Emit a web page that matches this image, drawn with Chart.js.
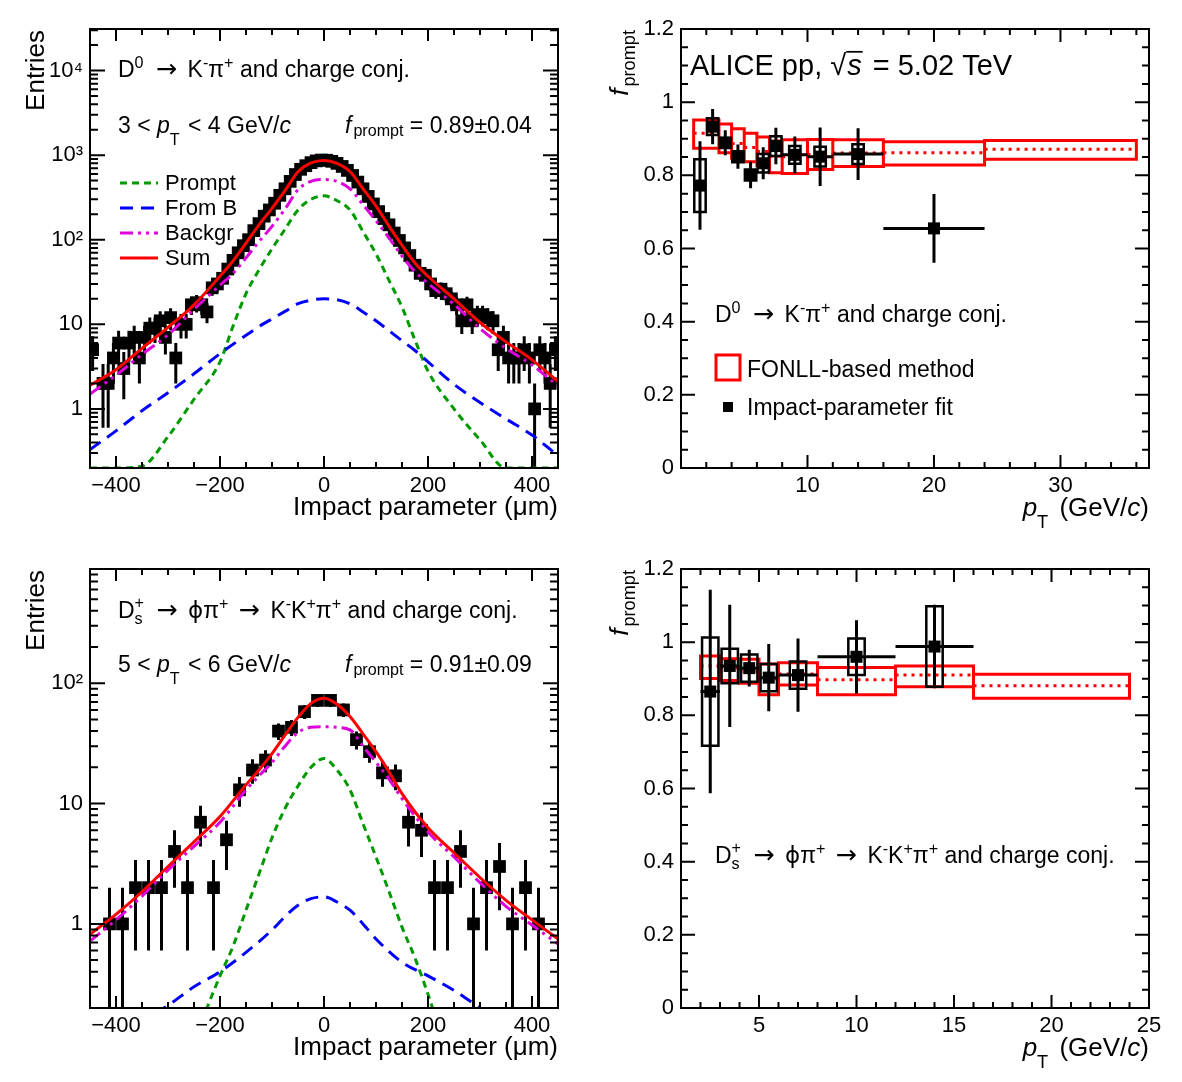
<!DOCTYPE html>
<html><head><meta charset="utf-8">
<script src="https://cdn.jsdelivr.net/npm/chart.js@4.4.1/dist/chart.umd.min.js"></script>
<style>
html,body{margin:0;padding:0;background:#fff;width:1182px;height:1082px;overflow:hidden}
canvas{position:absolute}
</style></head><body>
<canvas id="tl" width="591" height="541" style="left:0;top:0"></canvas>
<canvas id="tr" width="591" height="541" style="left:591px;top:0"></canvas>
<canvas id="bl" width="591" height="541" style="left:0;top:540px"></canvas>
<canvas id="br" width="591" height="541" style="left:591px;top:540px"></canvas>
<script>
// ================= DATA =================
// --- Top-left: D0 -> K-pi+, 3 < pT < 4 GeV/c, impact-parameter distribution (bin width 10 um)
const d0BinCenters = [
 -445,-435,-425,-415,-405,-395,-385,-375,-365,-355,
 -345,-335,-325,-315,-305,-295,-285,-275,-265,-255,
 -245,-235,-225,-215,-205,-195,-185,-175,-165,-155,
 -145,-135,-125,-115,-105,-95,-85,-75,-65,-55,
 -45,-35,-25,-15,-5,5,15,25,35,45,
 55,65,75,85,95,105,115,125,135,145,
 155,165,175,185,195,205,215,225,235,245,
 255,265,275,285,295,305,315,325,335,345,
 355,365,375,385,395,405,415,425,435,445];
const d0Counts = [
 5,0,2,2,4,6,3,6,7,4,
 7,9,9,11,7,12,4,10,10,17,
 18,17,14,27,30,35,45,57,70,85,
 100,128,155,190,225,270,335,400,490,590,
 680,750,815,855,875,870,845,800,735,660,
 575,480,400,325,265,215,178,150,120,98,
 80,65,50,40,38,30,25,26,23,20,
 17,11,17,11,13,13,12,11,5,7,
 4,4,4,5,4,1,5,4,2,5];
const d0Errors = [
 2.2,0,1.4,1.4,2,2.4,1.7,2.4,2.6,2,
 2.6,3,3,3.3,2.6,3.5,2,3.2,3.2,4.1,
 4.2,4.1,3.7,5.2,5.5,5.9,6.7,7.5,8.4,9.2,
 10,11.3,12.4,13.8,15,16.4,18.3,20,22.1,24.3,
 26.1,27.4,28.5,29.2,29.6,29.5,29.1,28.3,27.1,25.7,
 24,21.9,20,18,16.3,14.7,13.3,12.2,11,9.9,
 8.9,8.1,7.1,6.3,6.2,5.5,5,5.1,4.8,4.5,
 4.1,3.3,4.1,3.3,3.6,3.6,3.5,3.3,2.2,2.6,
 2,2,2,2.2,2,1,2.2,2,1.4,2.2];
const d0CurveX  = [-450,-400,-350,-300,-250,-200,-175,-150,-125,-100,-75,-50,-25,0,25,50,75,100,125,150,175,200,250,300,350,400,450];
const d0Prompt  = [0.2,0.2,0.21,0.47,1.3,3.6,9.5,23,44,78,133,225,300,330,290,225,125,68,33,16,6.5,2.8,1.0,0.43,0.2,0.2,0.2];
const d0FromB   = [0.33,0.55,0.95,1.55,2.6,4.5,5.8,7.4,9.4,11.6,14.2,17.5,19.3,20,19.5,17.5,14,11,8.4,6.4,4.9,3.6,1.95,1.19,0.76,0.49,0.28];
const d0Backgr  = [1.5,2.5,4.4,7.5,15,29,40,61,95,144,230,390,490,515,490,400,260,168,105,64,42,30.5,17.2,8.9,5.2,3.3,1.85];
const d0Sum     = [1.9,2.9,5.2,9.2,17,37,56,91,150,235,380,635,810,865,800,640,400,250,145,86,53,37,20,10.5,6.2,3.8,2.1];

// --- Bottom-left: Ds+ -> phi pi+ -> K-K+pi+, 5 < pT < 6 GeV/c (bin width 25 um)
const dsBinCenters = [-437.5,-412.5,-387.5,-362.5,-337.5,-312.5,-287.5,-262.5,-237.5,-212.5,
 -187.5,-162.5,-137.5,-112.5,-87.5,-62.5,-37.5,-12.5,12.5,37.5,
 62.5,87.5,112.5,137.5,162.5,187.5,212.5,237.5,262.5,287.5,
 312.5,337.5,362.5,387.5,412.5,437.5];
const dsCounts = [0,1,1,2,2,2,4,2,7,2, 5,13,19,23,40,43,58,72,72,60, 34,27,18,17,7,6,2,2,4,1, 2,3,1,2,1,0];
const dsErrors = [0,1,1,1.4,1.4,1.4,2,1.4,2.6,1.4, 2.2,3.6,4.4,4.8,6.3,6.6,7.6,8.5,8.5,7.7, 5.8,5.2,4.2,4.1,2.6,2.4,1.4,1.4,2,1, 1.4,1.7,1,1.4,1,0];
const dsCurveX   = [-450,-400,-350,-300,-250,-200,-150,-125,-100,-75,-50,-25,0,25,50,75,100,125,150,200,250,300,350,400,450];
const dsSum      = [0.82,1.2,1.85,3.0,4.8,7.8,14.3,19,26,37,52,68,75,67,53,38,27,18.4,12.1,6.3,3.9,2.43,1.57,1.08,0.75];
const dsBackgr   = [0.72,1.08,1.7,2.8,4.4,7.0,13,17,22,30,39,43,43.5,43,41,30,22,16,11,5.8,3.6,2.2,1.4,0.98,0.68];
const dsPromptX  = [-250,-225,-200,-175,-150,-125,-100,-75,-50,-25,0,25,50,75,100,125,150,175,200,225];
const dsPrompt   = [0.1,0.2,0.37,0.65,1.3,2.6,5.2,9.1,14,20,23.7,19,13,6.8,3.6,1.86,0.94,0.52,0.26,0.12];
const dsFromBX   = [-325,-300,-250,-200,-150,-100,-75,-50,-25,0,25,50,75,100,150,200,250,300,325];
const dsFromB    = [0.18,0.21,0.3,0.4,0.58,0.89,1.15,1.43,1.62,1.68,1.52,1.3,1.0,0.75,0.48,0.37,0.28,0.2,0.17];

// --- Top-right: D0 f_prompt vs pT
const d0FonllLo   = [1,3,4,5,6,7,8,10,12,16,24];
const d0FonllHi   = [3,4,5,6,7,8,10,12,16,24,36];
const d0FonllC    = [0.915,0.90,0.887,0.876,0.865,0.852,0.851,0.857,0.861,0.862,0.871];
const d0FonllMin  = [0.874,0.862,0.847,0.837,0.826,0.807,0.805,0.816,0.824,0.828,0.844];
const d0FonllMax  = [0.951,0.940,0.927,0.915,0.905,0.894,0.897,0.898,0.897,0.892,0.895];
const d0FitPt     = [1.5,2.5,3.5,4.5,5.5,6.5,7.5,9,11,14,20];
const d0FitHalfW  = [0.5,0.5,0.5,0.5,0.5,0.5,0.5,1,1,2,4];
const d0FitF      = [0.772,0.933,0.889,0.851,0.801,0.833,0.880,0.856,0.851,0.858,0.655];
const d0FitStat   = [0.121,0.048,0.034,0.033,0.036,0.044,0.05,0.05,0.08,0.071,0.094];
const d0FitSyst   = [0.072,0.023,0.014,0.015,0.015,0.025,0.027,0.024,0.027,0.027,0];

// --- Bottom-right: Ds f_prompt vs pT
const dsFonllLo   = [2,3,4,5,6,8,12,16];
const dsFonllHi   = [3,4,5,6,8,12,16,24];
const dsFonllC    = [0.935,0.93,0.92,0.90,0.913,0.897,0.910,0.881];
const dsFonllMin  = [0.901,0.895,0.888,0.856,0.883,0.856,0.878,0.847];
const dsFonllMax  = [0.962,0.955,0.953,0.940,0.944,0.931,0.935,0.912];
const dsFitPt     = [2.5,3.5,4.5,5.5,7,10,14];
const dsFitHalfW  = [0.5,0.5,0.5,0.5,1,2,2];
const dsFitF      = [0.865,0.935,0.929,0.903,0.910,0.960,0.988];
const dsFitStat   = [0.278,0.167,0.05,0.092,0.10,0.10,0.114];
const dsFitSyst   = [0.148,0.047,0.037,0.037,0.037,0.05,0.11];

// --- Axis tick labels
const ipTickVals   = [-400,-200,0,200,400];
const ipTickLabels = ['\u2212400','\u2212200','0','200','400'];
const d0LogVals    = [1,10,100,1000,10000];
const d0LogLabels  = ['1','10','10\u00b2','10\u00b3','10\u2074'];
const dsLogVals    = [1,10,100];
const dsLogLabels  = ['1','10','10\u00b2'];
const fTickVals    = [0,0.2,0.4,0.6,0.8,1,1.2];
const fTickLabels  = ['0','0.2','0.4','0.6','0.8','1','1.2'];
const d0PtTickVals = [10,20,30];
const d0PtTickLabels = ['10','20','30'];
const dsPtTickVals = [5,10,15,20,25];
const dsPtTickLabels = ['5','10','15','20','25'];

// ================= HELPERS =================
const FAM = '"Liberation Sans", Arial, Helvetica, sans-serif';
const SYM = '"DejaVu Sans", sans-serif';
Chart.defaults.font.family = FAM;
Chart.defaults.color = '#000';
function fnt(size, it, fam){ return (it ? 'italic ' : '') + size + 'px ' + (fam || FAM); }

function rich(ctx, x, y, parts, size, align){
  const items = []; let w = 0;
  for (const p of parts){
    if (p.stackSub !== undefined){
      ctx.font = fnt(size*0.7, false);
      const w1 = ctx.measureText(p.stackSub).width, w2 = ctx.measureText(p.stackSup).width;
      items.push({p, x:w}); w += Math.max(w1, w2) + (p.gap||0); continue;
    }
    let s = (p.sup || p.sub) ? size*0.7 : size;
    if (p.scale) s *= p.scale;
    ctx.font = fnt(s, p.it, p.fam);
    const tw = ctx.measureText(p.t).width;
    w += (p.pre||0);
    items.push({p, x:w, s, tw}); w += tw + (p.gap||0);
  }
  const x0 = align === 'right' ? x - w : x;
  ctx.fillStyle = '#000'; ctx.textAlign = 'left'; ctx.textBaseline = 'alphabetic';
  for (const it of items){
    const p = it.p;
    if (p.stackSub !== undefined){
      ctx.font = fnt(size*0.7, false);
      ctx.fillText(p.stackSub, x0 + it.x, y + size*0.28);
      ctx.fillText(p.stackSup, x0 + it.x, y - size*0.42);
      continue;
    }
    ctx.font = fnt(it.s, p.it, p.fam);
    let dy = p.base ? size*p.base : 0;
    if (p.sup) dy = -size*(p.dy !== undefined ? p.dy : 0.40);
    if (p.sub) dy = size*(p.dy !== undefined ? p.dy : 0.25);
    ctx.fillText(p.t, x0 + it.x, y + dy);
    if (p.over){
      ctx.save(); ctx.strokeStyle = '#000'; ctx.lineWidth = Math.max(1.5, size*0.06);
      ctx.beginPath(); ctx.moveTo(x0 + it.x - 1, y - size*0.80); ctx.lineTo(x0 + it.x + it.tw + 1, y - size*0.80); ctx.stroke();
      ctx.restore();
    }
  }
  return w;
}
const ARROW = {t:'\u2192', fam:SYM, scale:1.1, pre:4, gap:4, base:-0.02};

function linTicks(min, max, minor, major){
  const out = []; const n0 = Math.ceil(min/minor - 1e-9), n1 = Math.floor(max/minor + 1e-9);
  for (let n = n0; n <= n1; n++){ const v = n*minor; const r = v/major; out.push({v, major: Math.abs(r - Math.round(r)) < 1e-6}); }
  return out;
}
function logTicks(min, max){
  const out = [];
  for (let d = Math.floor(Math.log10(min)); d <= Math.ceil(Math.log10(max)); d++)
    for (let m = 1; m <= 9; m++){ const v = m*Math.pow(10, d); if (v >= min*0.999 && v <= max*1.001) out.push({v, major: m === 1}); }
  return out;
}

function framePlugin(name, xt, yt, L, drawText){
  return {
    id: 'frame_' + name,
    afterDraw(chart){
      const ctx = chart.ctx, a = chart.chartArea, xs = chart.scales.x, ys = chart.scales.y;
      ctx.save();
      ctx.strokeStyle = '#000'; ctx.lineWidth = 2; ctx.lineCap = 'butt';
      ctx.beginPath();
      for (const t of xt){
        const p = xs.getPixelForValue(t.v); if (p < a.left - 0.5 || p > a.right + 0.5) continue;
        const len = t.major ? L.xMaj : L.xMin;
        ctx.moveTo(p, a.bottom); ctx.lineTo(p, a.bottom - len);
        ctx.moveTo(p, a.top); ctx.lineTo(p, a.top + len);
      }
      for (const t of yt){
        const p = ys.getPixelForValue(t.v); if (p < a.top - 0.5 || p > a.bottom + 0.5) continue;
        const len = t.major ? L.yMaj : L.yMin;
        ctx.moveTo(a.left, p); ctx.lineTo(a.left + len, p);
        ctx.moveTo(a.right, p); ctx.lineTo(a.right - len, p);
      }
      ctx.stroke();
      ctx.strokeRect(a.left, a.top, a.right - a.left, a.bottom - a.top);
      ctx.restore();
      ctx.save(); drawText(ctx, a); ctx.restore();
    }
  };
}

function scaleOpts(type, min, max, vals, labels, isX){
  return {
    type, min, max,
    grid: {display:false, drawTicks:false}, border: {display:false},
    ticks: {color:'#000', font:{size:22, family:FAM}, padding: isX ? 5 : 7, autoSkip:false, maxRotation:0, minRotation:0,
      callback: (v, i) => labels[i]},
    afterBuildTicks: s => { s.ticks = vals.map(v => ({value: v})); },
    afterFit: s => { if (isX) s.height = 73; else s.width = 90; }
  };
}

function errSegments(xs, ys, es, minY){
  const pts = [];
  xs.forEach((x, i) => { if (ys[i] > 0){ pts.push({x, y: Math.max(ys[i] - es[i], minY)}, {x, y: ys[i] + es[i]}, {x, y: null}); } });
  return pts;
}
function markerPts(xs, ys){ const pts = []; xs.forEach((x, i) => { if (ys[i] > 0) pts.push({x, y: ys[i]}); }); return pts; }
function curvePts(xs, ys){ return xs.map((x, i) => ({x, y: ys[i]})); }
function boxPts(lo, hi, ylo, yhi, skip){
  const pts = [];
  lo.forEach((x0, i) => { if (skip && !(yhi[i] > ylo[i])) return; const x1 = hi[i];
    pts.push({x:x0,y:ylo[i]},{x:x1,y:ylo[i]},{x:x1,y:yhi[i]},{x:x0,y:yhi[i]},{x:x0,y:ylo[i]},{x:x1,y:ylo[i]},{x:x0,y:null}); });
  return pts;
}
function hSegs(lo, hi, ys){ const pts = []; lo.forEach((x0, i) => pts.push({x:x0, y:ys[i]}, {x:hi[i], y:ys[i]}, {x:x0, y:null})); return pts; }

const commonOpts = {
  animation:false, responsive:false, devicePixelRatio:1, events:[],
  layout:{padding:{left:0, top:29, right:33, bottom:0}},
  plugins:{legend:{display:false}, tooltip:{enabled:false}},
  elements:{point:{radius:0}, line:{tension:0}}
};
const GREEN = '#009a00', BLUE = '#0000ff', MAG = '#dd00dd', RED = '#ff0000';

function lineDs(data, color, width, dash, order, smooth){
  return {data, showLine:true, borderColor:color, borderWidth:width, borderDash:dash||[], pointRadius:0,
    spanGaps:false, order, cubicInterpolationMode: smooth ? 'monotone' : 'default', fill:false};
}
function markerDs(data, order, r){
  return {data, showLine:false, pointStyle:'rect', pointRadius:r, backgroundColor:'#000', borderColor:'#000', borderWidth:0, order};
}

const D0_TEXT = [{t:'D'},{t:'0',sup:1,gap:2},{t:' '},ARROW,{t:' K'},{t:'-',sup:1},{t:'\u03c0'},{t:'+',sup:1},{t:' and charge conj.'}];
const DS_TEXT = [{t:'D'},{stackSub:'s',stackSup:'+',gap:2},{t:' '},ARROW,{t:' '},{t:'\u03d5',fam:SYM},{t:'\u03c0'},{t:'+',sup:1},{t:' '},ARROW,{t:' K'},{t:'-',sup:1},{t:'K'},{t:'+',sup:1},{t:'\u03c0'},{t:'+',sup:1},{t:' and charge conj.'}];

// ================= TOP-LEFT =================
new Chart(document.getElementById('tl'), {
  type:'scatter',
  data:{datasets:[
    lineDs(curvePts(d0CurveX, d0Sum), RED, 3, [], 0, true),
    lineDs(curvePts(d0CurveX, d0Backgr), MAG, 3, [13,5,3,5,3,5], 1, true),
    lineDs(curvePts(d0CurveX, d0FromB), BLUE, 3, [13,8], 2, true),
    lineDs(curvePts(d0CurveX, d0Prompt), GREEN, 3, [7,5], 3, true),
    markerDs(markerPts(d0BinCenters, d0Counts), 4, 9),
    lineDs(errSegments(d0BinCenters, d0Counts, d0Errors, 0.01), '#000', 3, [], 5, false)
  ]},
  options: Object.assign({}, commonOpts, {
    scales:{
      x: scaleOpts('linear', -450, 450, ipTickVals, ipTickLabels, true),
      y: scaleOpts('logarithmic', 0.2, 31000, d0LogVals, d0LogLabels, false)
    }
  }),
  plugins:[framePlugin('tl', linTicks(-450,450,50,200), logTicks(0.2,31000), {xMaj:12,xMin:6,yMaj:15,yMin:8}, (ctx, a) => {
    const L = a.left, T = a.top;
    rich(ctx, L+28, T+48, D0_TEXT, 23);
    rich(ctx, L+28, T+104, [{t:'3 < '},{t:'p',it:1},{t:'T',sub:1,dy:0.5,gap:2},{t:' < 4 GeV/'},{t:'c',it:1}], 23);
    rich(ctx, L+255, T+104, [{t:'f',it:1,gap:2},{t:'prompt',sub:1,dy:0.12},{t:' = 0.89\u00b10.04'}], 23);
    const rows = [{c:GREEN,d:[7,5],t:'Prompt'},{c:BLUE,d:[13,8],t:'From B'},{c:MAG,d:[13,5,3,5,3,5],t:'Backgr'},{c:RED,d:[],t:'Sum'}];
    rows.forEach((r, i) => {
      const y = T + 154 + i*25;
      ctx.strokeStyle = r.c; ctx.lineWidth = 3; ctx.setLineDash(r.d);
      ctx.beginPath(); ctx.moveTo(L+30, y); ctx.lineTo(L+68, y); ctx.stroke(); ctx.setLineDash([]);
      ctx.font = fnt(22); ctx.fillStyle = '#000'; ctx.textAlign = 'left'; ctx.textBaseline = 'alphabetic';
      ctx.fillText(r.t, L+75, y+7);
    });
    rich(ctx, a.right, a.bottom+47, [{t:'Impact parameter (\u03bcm)'}], 26, 'right');
    ctx.save(); ctx.translate(44, a.top+1); ctx.rotate(-Math.PI/2);
    rich(ctx, 0, 0, [{t:'Entries'}], 26, 'right'); ctx.restore();
  })]
});

// ================= BOTTOM-LEFT =================
new Chart(document.getElementById('bl'), {
  type:'scatter',
  data:{datasets:[
    lineDs(curvePts(dsCurveX, dsSum), RED, 3, [], 0, true),
    lineDs(curvePts(dsCurveX, dsBackgr), MAG, 3, [13,5,3,5,3,5], 1, true),
    lineDs(curvePts(dsFromBX, dsFromB), BLUE, 3, [13,8], 2, true),
    lineDs(curvePts(dsPromptX, dsPrompt), GREEN, 3, [7,5], 3, true),
    markerDs(markerPts(dsBinCenters, dsCounts), 4, 9),
    lineDs(errSegments(dsBinCenters, dsCounts, dsErrors, 0.01), '#000', 3, [], 5, false)
  ]},
  options: Object.assign({}, commonOpts, {
    scales:{
      x: scaleOpts('linear', -450, 450, ipTickVals, ipTickLabels, true),
      y: scaleOpts('logarithmic', 0.2, 890, dsLogVals, dsLogLabels, false)
    }
  }),
  plugins:[framePlugin('bl', linTicks(-450,450,50,200), logTicks(0.2,890), {xMaj:12,xMin:6,yMaj:15,yMin:8}, (ctx, a) => {
    const L = a.left, T = a.top;
    rich(ctx, L+28, T+49, DS_TEXT, 23);
    rich(ctx, L+28, T+103, [{t:'5 < '},{t:'p',it:1},{t:'T',sub:1,dy:0.5,gap:2},{t:' < 6 GeV/'},{t:'c',it:1}], 23);
    rich(ctx, L+255, T+103, [{t:'f',it:1,gap:2},{t:'prompt',sub:1,dy:0.12},{t:' = 0.91\u00b10.09'}], 23);
    rich(ctx, a.right, a.bottom+47, [{t:'Impact parameter (\u03bcm)'}], 26, 'right');
    ctx.save(); ctx.translate(44, a.top+1); ctx.rotate(-Math.PI/2);
    rich(ctx, 0, 0, [{t:'Entries'}], 26, 'right'); ctx.restore();
  })]
});

// ================= RIGHT PANELS =================
function fpromptChart(id, xmin, xmax, xVals, xLabels, xMinor, xMajor, F, textFn){
  const mid = F.lo.map((x0, i) => ({x0, x1: F.hi[i], y: F.c[i]}));
  const dotted = []; mid.forEach(m => dotted.push({x:m.x0, y:m.y}, {x:m.x1, y:m.y}, {x:m.x0, y:null}));
  const vErr = []; F.pt.forEach((x, i) => vErr.push({x, y:F.f[i]-F.stat[i]}, {x, y:F.f[i]+F.stat[i]}, {x, y:null}));
  const hErr = hSegs(F.pt.map((x, i) => x - F.hw[i]), F.pt.map((x, i) => x + F.hw[i]), F.f);
  const sys = boxPts(F.pt.map(x => x - F.sw), F.pt.map(x => x + F.sw), F.f.map((y, i) => y - F.sys[i]), F.f.map((y, i) => y + F.sys[i]), true);
  new Chart(document.getElementById(id), {
    type:'scatter',
    data:{datasets:[
      markerDs(F.pt.map((x, i) => ({x, y:F.f[i]})), 0, 8.5),
      lineDs(vErr, '#000', 3, [], 1, false),
      lineDs(hErr, '#000', 3, [], 2, false),
      lineDs(sys, '#000', 2.5, [], 3, false),
      lineDs(dotted, RED, 3, [3,5], 4, false),
      lineDs(boxPts(F.lo, F.hi, F.min, F.max, false), RED, 3, [], 5, false)
    ]},
    options: Object.assign({}, commonOpts, {
      scales:{
        x: scaleOpts('linear', xmin, xmax, xVals, xLabels, true),
        y: scaleOpts('linear', 0, 1.2, fTickVals, fTickLabels, false)
      }
    }),
    plugins:[framePlugin(id, linTicks(xmin, xmax, xMinor, xMajor), linTicks(0, 1.2, 0.05, 0.2), {xMaj:13,xMin:6,yMaj:14,yMin:7}, (ctx, a) => {
      textFn(ctx, a);
      rich(ctx, a.right, a.bottom+48, [{t:'p',it:1},{t:'T',sub:1,dy:0.45,gap:4},{t:' (GeV/'},{t:'c',it:1},{t:')'}], 26, 'right');
      ctx.save(); ctx.translate(a.left-53, a.top+1); ctx.rotate(-Math.PI/2);
      rich(ctx, 0, 0, [{t:'f',it:1,gap:2},{t:'prompt',sub:1,dy:0.25}], 26, 'right'); ctx.restore();
    })]
  });
}

fpromptChart('tr', 0, 37, d0PtTickVals, d0PtTickLabels, 2, 10,
  {lo:d0FonllLo, hi:d0FonllHi, c:d0FonllC, min:d0FonllMin, max:d0FonllMax,
   pt:d0FitPt, hw:d0FitHalfW, f:d0FitF, stat:d0FitStat, sys:d0FitSyst, sw:0.45},
  (ctx, a) => {
    const L = a.left, T = a.top;
    rich(ctx, L+9, T+46, [{t:'ALICE pp, '},{t:'\u221a',gap:1},{t:'s',it:1,over:1},{t:' = 5.02 TeV',pre:3}], 29);
    rich(ctx, L+34, T+293, D0_TEXT, 23);
    ctx.strokeStyle = RED; ctx.lineWidth = 3; ctx.strokeRect(L+35, T+326, 24, 25);
    rich(ctx, L+66, T+348, [{t:'FONLL-based method'}], 23);
    ctx.fillStyle = '#000'; ctx.fillRect(L+42, T+373, 10, 10);
    rich(ctx, L+66, T+386, [{t:'Impact-parameter fit'}], 23);
  });

fpromptChart('br', 1, 25, dsPtTickVals, dsPtTickLabels, 1, 5,
  {lo:dsFonllLo, hi:dsFonllHi, c:dsFonllC, min:dsFonllMin, max:dsFonllMax,
   pt:dsFitPt, hw:dsFitHalfW, f:dsFitF, stat:dsFitStat, sys:dsFitSyst, sw:0.42},
  (ctx, a) => {
    const L = a.left, T = a.top;
    rich(ctx, L+34, T+294, DS_TEXT, 23);
  });
</script>
</body></html>
